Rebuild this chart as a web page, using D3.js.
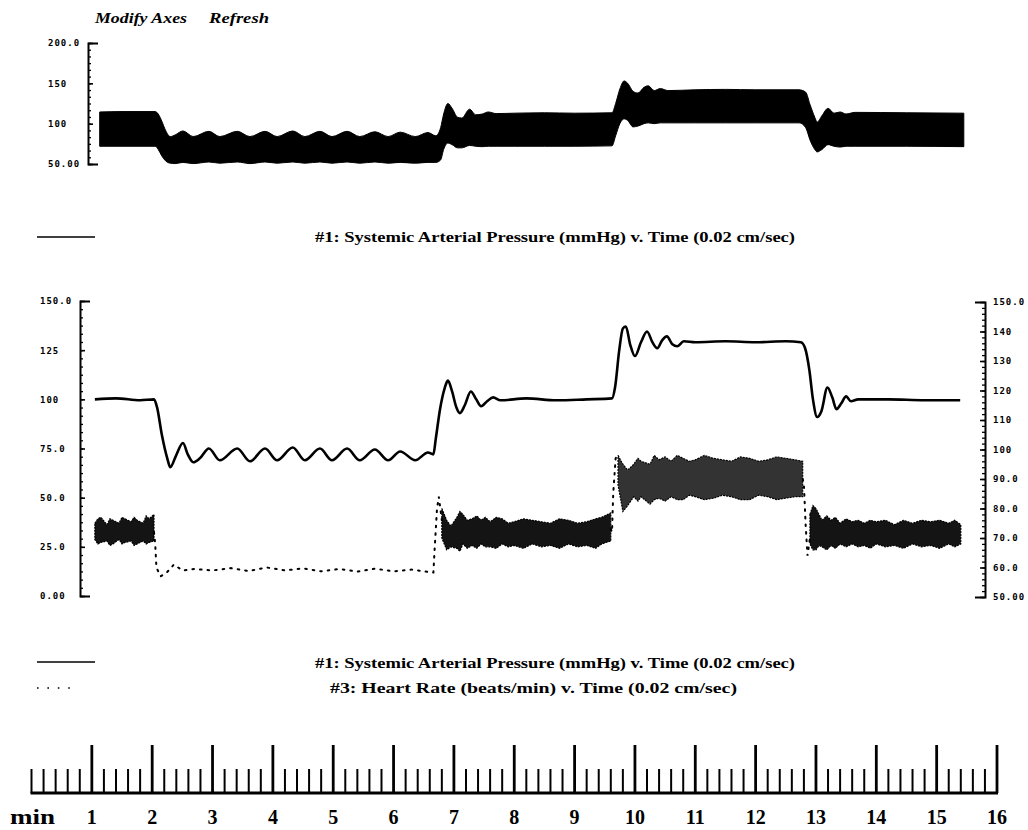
<!DOCTYPE html>
<html lang="en">
<head>
<meta charset="UTF-8">
<script src="https://d3js.org/d3.v7.min.js"></script>
<style>
  body { margin: 0; background: #fff; }
  svg { display: block; font-family: "Liberation Serif", "Times New Roman", serif; }
  .lbl { font-family: "DejaVu Sans Mono", monospace; font-weight: bold; font-size: 9px; letter-spacing: 1px; fill: #000; }
</style>
</head>
<body>
<svg id="chart" width="1028" height="830"></svg>
<script>
// ---- values (time in minutes) ----

// top panel: pulsatile pressure envelope [t, diastolic, systolic]
const rawPressure = [
  [1.13, 72, 114.5], [1.5, 72, 115], [2.05, 72, 115], [2.10, 68, 112], [2.16, 60, 103],
  [2.22, 54, 92], [2.30, 51, 84], [2.38, 50.5, 86], [2.51, 52, 91], [2.68, 50.5, 84],
  [2.94, 52.5, 90.5], [3.12, 51, 84], [3.41, 52.5, 90.5], [3.62, 50.5, 84], [3.87, 52.5, 90.5],
  [4.07, 51, 84], [4.33, 52.5, 91], [4.53, 51, 84], [4.78, 52.5, 90.5], [4.98, 51, 84],
  [5.23, 52.5, 90.5], [5.44, 51, 84], [5.69, 52.5, 90], [5.91, 51, 84], [6.11, 52, 89.5],
  [6.36, 51, 84], [6.57, 52, 89], [6.70, 52, 85], [6.78, 55, 95], [6.83, 68, 112],
  [6.90, 76, 125], [6.97, 74, 119], [7.06, 70, 108], [7.13, 70, 107], [7.26, 73, 118],
  [7.36, 72, 111], [7.47, 71.5, 112], [7.57, 72, 114.5], [7.7, 72, 112.5], [8.0, 72, 113],
  [8.5, 72, 113.5], [9.0, 72, 113], [9.62, 72.5, 113.5], [9.68, 85, 125], [9.75, 100, 143],
  [9.82, 106, 153], [9.88, 104, 150], [9.97, 96, 140], [10.05, 97, 138], [10.15, 100, 145],
  [10.22, 101, 147], [10.32, 100, 141], [10.42, 101, 143.5], [10.55, 101, 141], [11.0, 101, 142],
  [11.5, 101, 142.5], [12.0, 101, 142], [12.72, 101, 142], [12.83, 95, 139], [12.90, 80, 124],
  [12.98, 68, 108], [13.02, 65, 102], [13.10, 68, 110], [13.20, 74, 119], [13.30, 72, 113],
  [13.40, 71, 114.5], [13.50, 72, 112], [13.65, 72, 114], [14.5, 72, 113.5], [15.45, 71.5, 113]
];

// middle panel: mean arterial pressure [t, mmHg]
const meanPressure = [
  [1.05, 100], [1.4, 100.5], [1.8, 99.5], [2.03, 100], [2.08, 96], [2.16, 82], [2.25, 70],
  [2.30, 65.5], [2.39, 71], [2.51, 77.8], [2.59, 72], [2.68, 68], [2.79, 70], [2.94, 75],
  [3.12, 69], [3.41, 75], [3.62, 68.5], [3.87, 75], [4.07, 69], [4.33, 75.5], [4.53, 69],
  [4.78, 75], [4.98, 69], [5.23, 75], [5.44, 69], [5.69, 74.5], [5.91, 69], [6.11, 73.5],
  [6.36, 69], [6.57, 73], [6.66, 72], [6.70, 80], [6.77, 95], [6.85, 106], [6.90, 109.5],
  [6.97, 104], [7.04, 96], [7.10, 93], [7.18, 97], [7.28, 104], [7.37, 100], [7.45, 96.5],
  [7.55, 99], [7.65, 101], [7.77, 99.5], [8.2, 100.5], [8.7, 99.5], [9.2, 100], [9.62, 100.5],
  [9.67, 106], [9.74, 125], [9.80, 136], [9.85, 137], [9.92, 128], [10.0, 122], [10.10, 129],
  [10.20, 134.5], [10.29, 129], [10.37, 126], [10.45, 130], [10.53, 132], [10.62, 128],
  [10.70, 127], [10.81, 129.5], [11.0, 129], [11.5, 129.5], [12.0, 129], [12.5, 129.5],
  [12.75, 129], [12.82, 126], [12.89, 115], [12.95, 100], [13.02, 91], [13.09, 94],
  [13.19, 106], [13.27, 101], [13.34, 95], [13.42, 98], [13.50, 101.5], [13.58, 99],
  [13.70, 100], [14.2, 100], [14.8, 99.5], [15.39, 99.5]
];

// middle panel: heart rate where the pen traced a thin dotted line [t, beats/min]
const heartRateTrace = [
  [[2.03, 72], [2.05, 68], [2.07, 60], [2.14, 57], [2.25, 58.5], [2.36, 61], [2.5, 59],
   [2.7, 59.5], [3.0, 59], [3.3, 59.8], [3.6, 58.8], [3.9, 60], [4.2, 59], [4.5, 59.7],
   [4.8, 58.7], [5.1, 59.5], [5.4, 58.6], [5.7, 59.6], [6.0, 58.7], [6.3, 59.3], [6.6, 58.4],
   [6.66, 58.3], [6.68, 66], [6.72, 80], [6.75, 84], [6.8, 76]],
  [[9.60, 73], [9.62, 72], [9.64, 85], [9.68, 97], [9.72, 98.5]],
  [[12.78, 90], [12.80, 88], [12.83, 74], [12.86, 64], [12.9, 70]]
];

// middle panel: heart rate where the trace is a dense scribble [t, low, high]
const heartRateBands = [
  [[1.05, 69.5, 75], [1.10, 68, 76.5], [1.15, 68.5, 77], [1.25, 69, 74.5], [1.30, 67.5, 76.5],
   [1.35, 68, 76], [1.45, 69.5, 75], [1.50, 68, 77], [1.55, 68.5, 76.5], [1.65, 69, 75.5],
   [1.70, 67.5, 77], [1.75, 68, 76], [1.85, 69, 75], [1.90, 68, 77.5], [1.95, 68.5, 76.5],
   [2.03, 69, 78]],
  [[6.80, 70, 80], [6.88, 66, 76], [6.95, 67, 74], [7.05, 66.5, 77], [7.10, 65.5, 79],
   [7.15, 68, 78], [7.22, 66.5, 76], [7.3, 67.5, 76.5], [7.38, 66.5, 77.5], [7.45, 68, 76],
   [7.52, 67, 77], [7.6, 67, 75.5], [7.7, 66.5, 77], [7.8, 68, 76.5], [7.9, 67, 75],
   [8.0, 67.5, 75.5], [8.15, 66.5, 76.5], [8.3, 68, 76], [8.45, 67, 75.5], [8.6, 67.5, 75],
   [8.75, 66.5, 76.5], [8.9, 68, 76], [9.05, 67, 75], [9.2, 67.5, 75.5], [9.35, 66.5, 76.5],
   [9.45, 68, 77], [9.6, 69, 78.5]],
  [[9.72, 88, 98], [9.80, 79, 95], [9.88, 81, 93], [9.98, 84, 95], [10.05, 82.5, 97],
   [10.1, 84, 96], [10.25, 81.5, 95], [10.32, 83, 98], [10.4, 83.5, 96.5], [10.5, 82.5, 97.5],
   [10.6, 84, 96], [10.7, 83, 98], [10.8, 83, 97], [10.9, 84.5, 96], [11.0, 84, 96.5],
   [11.15, 83, 98], [11.3, 83.5, 97], [11.45, 84.5, 96.5], [11.6, 84, 96], [11.75, 83, 97.5],
   [11.9, 83, 97], [12.05, 84.5, 96], [12.2, 84, 96.5], [12.35, 83, 97.5], [12.5, 83.5, 97],
   [12.65, 84, 96.5], [12.78, 84, 96]],
  [[12.9, 68, 78], [12.95, 66, 81], [13.0, 66, 80], [13.05, 67.5, 78], [13.1, 67, 76],
   [13.18, 66, 77.5], [13.25, 67.5, 76], [13.32, 66.5, 77], [13.4, 68, 75], [13.5, 67, 76.5],
   [13.6, 68, 75.5], [13.7, 67, 76], [13.8, 67.5, 75], [13.9, 66.5, 76], [14.0, 68, 75.5],
   [14.15, 67, 76], [14.3, 67.5, 74.5], [14.45, 66.5, 76], [14.6, 68, 75], [14.75, 67, 76],
   [14.9, 67.5, 75.5], [15.05, 66.5, 76], [15.2, 68, 75], [15.3, 67, 76], [15.4, 68, 74.5]]
];

// axis ticks and labels
const topTicks = [50, 100, 150, 200];
const topTickLabels = ["50.00", "100", "150", "200.0"];
const leftTicks = [0, 25, 50, 75, 100, 125, 150];
const leftTickLabels = ["0.00", "25.0", "50.0", "75.0", "100", "125", "150.0"];
const rightTicks = [50, 60, 70, 80, 90, 100, 110, 120, 130, 140, 150];
const rightTickLabels = ["50.00", "60.0", "70.0", "80.0", "90.0", "100", "110", "120", "130", "140", "150.0"];
const rulerMinutes = d3.range(1, 17);

const legendPressure = "#1: Systemic Arterial Pressure (mmHg) v. Time (0.02 cm/sec)";
const legendHeartRate = "#3: Heart Rate (beats/min) v. Time (0.02 cm/sec)";

// ---- drawing ----
const svg = d3.select('#chart');

const x = d3.scaleLinear().domain([0, 16]).range([31.5, 997]);
const yTop = d3.scaleLinear().domain([50, 200]).range([164, 43]);
const yMid = d3.scaleLinear().domain([0, 150]).range([596, 301]);
const yHr = d3.scaleLinear().domain([50, 150]).range([597, 302]);

// menu text
svg.append('text').attr('x', 95).attr('y', 23)
  .attr('font-weight', 'bold').attr('font-style', 'italic').attr('font-size', 15)
  .attr('textLength', 92).attr('lengthAdjust', 'spacingAndGlyphs').text('Modify Axes');
svg.append('text').attr('x', 209).attr('y', 23)
  .attr('font-weight', 'bold').attr('font-style', 'italic').attr('font-size', 15)
  .attr('textLength', 60).attr('lengthAdjust', 'spacingAndGlyphs').text('Refresh');

function styleAxis(g, labelX, anchor) {
  g.select('.domain').attr('stroke', '#000').attr('stroke-width', 2);
  g.selectAll('.tick line').attr('stroke', '#000').attr('stroke-width', 1.6);
  g.selectAll('.tick text').attr('class', 'lbl')
    .attr('x', labelX).attr('text-anchor', anchor).attr('font-size', null).attr('font-family', null);
}

function minorAxis(axisFn, scale, ticks, size, tx) {
  svg.append('g').attr('transform', `translate(${tx},0)`)
    .call(axisFn(scale).tickValues(ticks).tickSize(size).tickFormat(''))
    .call(g => g.select('.domain').remove())
    .call(g => g.selectAll('.tick line').attr('stroke', '#000').attr('stroke-width', 1.3));
}

// top panel axis
minorAxis(d3.axisLeft, yTop, d3.range(50, 200.01, 50 / 6), -3, 88);
svg.append('g').attr('transform', 'translate(88,0)')
  .call(d3.axisLeft(yTop).tickValues(topTicks).tickSize(-5).tickSizeOuter(-10)
    .tickFormat((d, i) => topTickLabels[i]))
  .call(g => styleAxis(g, -40, 'start'));

// top panel pressure band
svg.append('path')
  .datum(rawPressure)
  .attr('fill', '#000')
  .attr('stroke', '#000').attr('stroke-width', 1)
  .attr('d', d3.area().x(d => x(d[0])).y0(d => yTop(d[1])).y1(d => yTop(d[2])).curve(d3.curveMonotoneX));

// legend under top panel
svg.append('line').attr('x1', 37).attr('x2', 95).attr('y1', 237).attr('y2', 237)
  .attr('stroke', '#000').attr('stroke-width', 1.5);
svg.append('text').attr('x', 315).attr('y', 242).attr('font-size', 14).attr('font-weight', 'bold')
  .attr('textLength', 480).attr('lengthAdjust', 'spacingAndGlyphs').text(legendPressure);

// middle panel axes
minorAxis(d3.axisLeft, yMid, d3.range(0, 150.01, 25 / 6), -3, 80);
svg.append('g').attr('transform', 'translate(80,0)')
  .call(d3.axisLeft(yMid).tickValues(leftTicks).tickSize(-5).tickSizeOuter(-10)
    .tickFormat((d, i) => leftTickLabels[i]))
  .call(g => styleAxis(g, -40, 'start'));

minorAxis(d3.axisRight, yHr, d3.range(50, 150.01, 2), -3, 985);
svg.append('g').attr('transform', 'translate(985,0)')
  .call(d3.axisRight(yHr).tickValues(rightTicks).tickSize(-5).tickSizeOuter(-10)
    .tickFormat((d, i) => rightTickLabels[i]))
  .call(g => styleAxis(g, 8, 'start'));

// heart rate: dotted pen segments
svg.append('g').selectAll('path')
  .data(heartRateTrace)
  .join('path')
  .attr('fill', 'none').attr('stroke', '#000').attr('stroke-width', 2)
  .attr('stroke-dasharray', '1.6 6').attr('stroke-linecap', 'round')
  .attr('d', d3.line().x(d => x(d[0])).y(d => yHr(d[1])));

// heart rate: dense scribble bands
const hrArea = d3.area().x(d => x(d[0])).y0(d => yHr(d[1])).y1(d => yHr(d[2]));
svg.append('g').selectAll('path')
  .data(heartRateBands)
  .join('path')
  .attr('fill', '#000').attr('fill-opacity', (d, i) => i === 2 ? 0.8 : 0.92)
  .attr('stroke', '#000').attr('stroke-width', 1.2).attr('stroke-dasharray', '2 1')
  .attr('d', hrArea);

// mean pressure line
svg.append('path')
  .datum(meanPressure)
  .attr('fill', 'none').attr('stroke', '#000').attr('stroke-width', 2.6)
  .attr('stroke-linejoin', 'round')
  .attr('d', d3.line().x(d => x(d[0])).y(d => yMid(d[1])).curve(d3.curveMonotoneX));

// legends under middle panel
svg.append('line').attr('x1', 37).attr('x2', 95).attr('y1', 662).attr('y2', 662)
  .attr('stroke', '#000').attr('stroke-width', 1.5);
svg.append('text').attr('x', 315).attr('y', 668).attr('font-size', 14).attr('font-weight', 'bold')
  .attr('textLength', 480).attr('lengthAdjust', 'spacingAndGlyphs').text(legendPressure);
svg.append('line').attr('x1', 37).attr('x2', 70).attr('y1', 688).attr('y2', 688)
  .attr('stroke', '#000').attr('stroke-width', 1.6).attr('stroke-dasharray', '1.6 8.8');
svg.append('text').attr('x', 330).attr('y', 693).attr('font-size', 14).attr('font-weight', 'bold')
  .attr('textLength', 407).attr('lengthAdjust', 'spacingAndGlyphs').text(legendHeartRate);

// time ruler
const ruler = svg.append('g');
const rulerBase = 793;
ruler.append('line').attr('x1', x(0) - 1).attr('x2', x(16) + 1)
  .attr('y1', rulerBase).attr('y2', rulerBase).attr('stroke', '#000').attr('stroke-width', 3);
ruler.selectAll('line.minor')
  .data(d3.range(0, 80).map(i => i / 5).filter(t => Math.abs(t - Math.round(t)) > 1e-6 || t === 0))
  .join('line').attr('class', 'minor')
  .attr('x1', d => x(d)).attr('x2', d => x(d))
  .attr('y1', rulerBase).attr('y2', 769)
  .attr('stroke', '#000').attr('stroke-width', 2);
ruler.selectAll('line.major')
  .data(rulerMinutes)
  .join('line').attr('class', 'major')
  .attr('x1', d => x(d)).attr('x2', d => x(d))
  .attr('y1', rulerBase).attr('y2', 745)
  .attr('stroke', '#000').attr('stroke-width', 2.8);
ruler.selectAll('text.num')
  .data(rulerMinutes)
  .join('text').attr('class', 'num')
  .attr('x', d => x(d)).attr('y', 824).attr('text-anchor', 'middle')
  .attr('font-size', 20).attr('font-weight', 'bold')
  .text(d => d);
ruler.append('text').attr('x', 10).attr('y', 824)
  .attr('font-size', 20).attr('font-weight', 'bold')
  .attr('textLength', 45).attr('lengthAdjust', 'spacingAndGlyphs').text('min');
</script>
</body>
</html>
